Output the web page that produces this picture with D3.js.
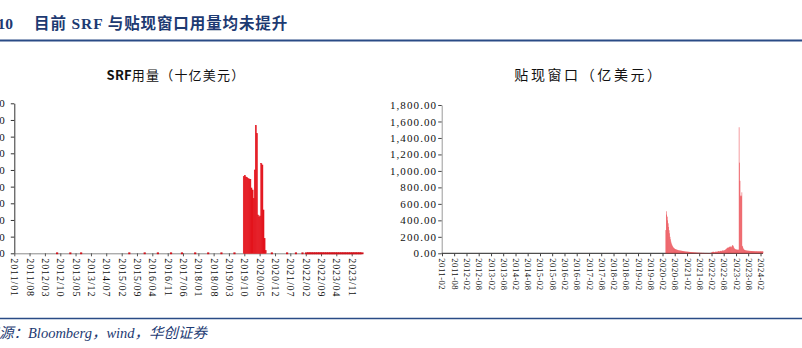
<!DOCTYPE html>
<html>
<head>
<meta charset="utf-8">
<script src="https://cdn.jsdelivr.net/npm/d3@7"></script>
<style>
  html, body { margin: 0; padding: 0; background: #fff; overflow: hidden; }
  svg { display: block; }
</style>
</head>
<body>
<svg id="chart" width="802" height="348"></svg>
<script>
// ---------------- data ----------------
// SRF / repo usage, billions of USD
const srfTickLabels = ["2011/01","2011/08","2012/03","2012/10","2013/05","2013/12","2014/07","2015/02",
  "2015/09","2016/04","2016/11","2017/06","2018/01","2018/08","2019/03","2019/10","2020/05","2020/12",
  "2021/07","2022/02","2022/09","2023/04","2023/11"];
const srfYTicks = [0, 50, 100, 150, 200, 250, 300, 350, 400, 450];

// small test operations (tiny amounts)
const srfTestDates = ["2012-08-15","2013-02-15","2013-07-15","2015-05-15","2015-12-15","2016-06-15",
  "2016-12-15","2017-05-15","2017-11-15","2018-05-15","2018-11-15","2019-05-15","2020-10-15",
  "2021-05-15","2021-09-15","2021-12-15"];
const srfTestValues = [0.01,0.01,0.02,0.01,0.01,0.01,0.01,0.01,0.02,0.01,0.01,0.01,0.01,0.02,0.01,0.01];

// repo operations Sep 2019 - Jul 2020, half-month periods
const srfRepoDates = ["2019-09-16","2019-10-01","2019-10-16","2019-11-01","2019-11-16","2019-12-01",
  "2019-12-16","2020-01-01","2020-01-16","2020-02-01","2020-02-16","2020-03-01","2020-03-16",
  "2020-04-01","2020-04-16","2020-05-01","2020-05-16","2020-06-01","2020-06-16","2020-07-01","2020-07-16"];
const srfRepoValues = [230,234,229,227,224,223,222,196,190,164,250,384,360,115,109,112,269,265,130,45,8];

// standing facility, monthly since 2022
const srfRecentDates = ["2022-02-01","2022-03-01","2022-04-01","2022-05-01","2022-06-01","2022-07-01",
  "2022-08-01","2022-09-01","2022-10-01","2022-11-01","2022-12-01","2023-01-01","2023-02-01",
  "2023-03-01","2023-04-01","2023-05-01","2023-06-01","2023-07-01","2023-08-01","2023-09-01",
  "2023-10-01","2023-11-01","2023-12-01","2024-01-01","2024-02-01","2024-03-01"];
const srfRecentValues = [0.01,0.01,0.01,0.01,0.01,0.01,0.01,0.01,0.01,0.01,0.02,0.01,0.01,
  0.01,0.01,0.01,0.02,0.01,0.01,0.01,0.01,0.01,0.02,0.01,0.01,0.01];

// discount window, 100 millions of USD, weekly (Wednesdays)
const dwTickLabels = ["2011-02","2011-08","2012-02","2012-08","2013-02","2013-08","2014-02","2014-08",
  "2015-02","2015-08","2016-02","2016-08","2017-02","2017-08","2018-02","2018-08","2019-02","2019-08",
  "2020-02","2020-08","2021-02","2021-08","2022-02","2022-08","2023-02","2023-08","2024-02"];
const dwYTicks = [0, 200, 400, 600, 800, 1000, 1200, 1400, 1600, 1800];

const dw2020Start = "2020-03-04";
const dw2020 = [0,0,282,510,470,445,400,364,320,280,243,200,170,142,120,105,92,81,72,66,60,56,52,49,
  47,45,43,41,39,37,36,35,34,33,32,31,30,29,28,27,26,25,24,23];
const dw2021Start = "2021-01-06";
const dw2021 = [22,21,21,20,20,19,18,18,17,16,16,15,15,14,14,13,13,12,12,11,11,10,10,9,9,8,8,8,7,7,
  7,6,6,6,6,5,5,5,5,5,4,4,4,4,4,4,4,3,3,3,3,3];
const dw2022Start = "2022-01-05";
const dw2022 = [3,4,5,8,12,15,18,20,16,14,12,15,20,22,18,16,20,25,28,24,22,26,30,28,25,30,32,35,30,34,
  38,36,40,45,50,55,60,65,70,72,68,75,80,85,78,72,80,90,100,95,85,70];
const dw2023Start = "2023-01-04";
const dw2023 = [60,55,50,48,46,45,44,43,42,45,1530,1100,880,700,690,700,740,90,80,60,50,45,40,38,36,
  35,34,33,32,32,31,30,30,29,29,28,28,28,27,27,27,26,26,26,25,25,25,25,25,24,24,24];
const dw2024Start = "2024-01-03";
const dw2024 = [24,23,24,25,24,23,24,25,24,23];

// ---------------- drawing ----------------
const parseDay = d3.timeParse("%Y-%m-%d");
const svg = d3.select("#chart");
const navy = "#1d3a72";
const serif = "'Liberation Serif', 'Times New Roman', 'Noto Sans CJK SC', serif";
const sans = "'Noto Sans CJK SC', 'Noto Sans', sans-serif";

svg.append("rect").attr("width", 802).attr("height", 348).attr("fill", "#fff");

// header
svg.append("text").attr("x", 13).attr("y", 29).attr("text-anchor", "end")
  .style("font-family", serif).attr("font-weight", "bold").attr("font-size", 15.5)
  .attr("fill", navy).text("图表10");
svg.append("text").attr("x", 34).attr("y", 29)
  .style("font-family", serif).attr("font-weight", "bold").attr("font-size", 15.5)
  .attr("letter-spacing", 0.9).attr("fill", navy).text("目前 SRF 与贴现窗口用量均未提升");
svg.append("line").attr("x1", 0).attr("x2", 802).attr("y1", 40.5).attr("y2", 40.5)
  .attr("stroke", "#2a4b86").attr("stroke-width", 2);

// footer
svg.append("line").attr("x1", 0).attr("x2", 802).attr("y1", 318.5).attr("y2", 318.5)
  .attr("stroke", "#2a4b86").attr("stroke-width", 1.5);
svg.append("text").attr("x", -1).attr("y", 338).attr("text-anchor", "end")
  .style("font-family", serif).attr("font-style", "italic").attr("font-size", 14.5)
  .attr("fill", navy).text("资料来");
svg.append("text").attr("x", -1).attr("y", 338)
  .style("font-family", serif).attr("font-style", "italic").attr("font-size", 14.5)
  .attr("fill", navy).text("源：Bloomberg，wind，华创证券");

// ===== left panel: SRF =====
const xL = d3.scaleTime().domain([new Date(2011, 0, 1), new Date(2024, 2, 23)]).range([14.3, 362]);
const yL = d3.scaleLinear().domain([0, 450]).range([253.3, 103.3]);
const parseSlash = d3.timeParse("%Y/%m");

svg.append("text").attr("x", 176).attr("y", 79.5).attr("text-anchor", "middle")
  .style("font-family", sans).attr("font-size", 13).attr("letter-spacing", 1.2).attr("fill", "#111")
  .call(t => {
    t.append("tspan").attr("font-weight", "bold").attr("letter-spacing", 0.2).text("SRF");
    t.append("tspan").text("用量（十亿美元）");
  });

const gLy = svg.append("g").attr("transform", "translate(14.3,0)")
  .call(d3.axisLeft(yL).tickValues(srfYTicks).tickSize(3.5).tickSizeOuter(0).tickPadding(6)
    .tickFormat(d3.format(",.0f")));
gLy.select(".domain").attr("stroke", "#333");
gLy.selectAll(".tick line").attr("stroke", "#333");
gLy.selectAll("text").style("font-family", serif).attr("font-size", 11).attr("fill", "#111");

const gLx = svg.append("g").attr("transform", "translate(0,253.3)")
  .call(d3.axisBottom(xL).tickValues(srfTickLabels.map(parseSlash)).tickSize(3).tickSizeOuter(0)
    .tickFormat((d, i) => srfTickLabels[i]));
gLx.select(".domain").attr("stroke", "#8a8a8a");
gLx.selectAll(".tick line").attr("stroke", "#555");
gLx.selectAll("text").style("font-family", serif).attr("font-size", 10).attr("letter-spacing", 0.9)
  .attr("fill", "#111").attr("y", 0).attr("x", 5).attr("dy", "0.35em")
  .attr("transform", "rotate(90)").style("text-anchor", "start");

const srfRed = "#e3141d";
function periods(dates, values, endOf) {
  return dates.map((s, i) => {
    const d0 = parseDay(s);
    const d1 = i < dates.length - 1 ? parseDay(dates[i + 1]) : endOf(d0);
    return { d0, d1, v: values[i] };
  });
}
const srfBars = [
  ...srfTestDates.map((s, i) => ({ d0: parseDay(s), d1: d3.timeDay.offset(parseDay(s), 5), v: srfTestValues[i] })),
  ...periods(srfRepoDates, srfRepoValues, d => d3.timeDay.offset(d, 15)),
  ...periods(srfRecentDates, srfRecentValues, d => d3.timeMonth.offset(d, 1))
];
svg.append("g").selectAll("rect").data(srfBars).join("rect")
  .attr("x", d => xL(d.d0))
  .attr("width", d => Math.max(0, xL(d.d1) - xL(d.d0)))
  .attr("y", d => yL(d.v))
  .attr("height", d => yL(0) - yL(d.v))
  .attr("fill", srfRed)
  .attr("stroke", d => d.v < 1 ? "#d0121b" : srfRed)
  .attr("stroke-width", d => d.v < 1 ? 1.8 : 0.5);

// ===== right panel: discount window =====
const xR = d3.scaleTime().domain([new Date(2011, 1, 1), new Date(2024, 2, 9)]).range([442, 763]);
const yR = d3.scaleLinear().domain([0, 1800]).range([253.3, 105]);
const parseDash = d3.timeParse("%Y-%m");

svg.append("text").attr("x", 589).attr("y", 79.5).attr("text-anchor", "middle")
  .style("font-family", sans).attr("font-size", 14).attr("letter-spacing", 2.6).attr("fill", "#111")
  .text("贴现窗口（亿美元）");

const gRy = svg.append("g").attr("transform", "translate(441.7,0)")
  .call(d3.axisLeft(yR).tickValues(dwYTicks).tickSize(3.5).tickSizeOuter(0).tickPadding(1)
    .tickFormat(d3.format(",.2f")));
gRy.select(".domain").attr("stroke", "#9a9a9a");
gRy.selectAll(".tick line").attr("stroke", "#444");
gRy.selectAll("text").style("font-family", serif).attr("font-size", 11).attr("letter-spacing", 1.1)
  .attr("fill", "#111");

const gRx = svg.append("g").attr("transform", "translate(0,253.3)")
  .call(d3.axisBottom(xR).tickValues(dwTickLabels.map(parseDash)).tickSize(3).tickSizeOuter(0)
    .tickFormat((d, i) => dwTickLabels[i]));
gRx.select(".domain").attr("stroke", "#222").attr("d", "M441.7,0H763");
gRx.selectAll(".tick line").attr("stroke", "#444");
gRx.selectAll("text").style("font-family", serif).attr("font-size", 8.6).attr("letter-spacing", 0.5)
  .attr("fill", "#111").attr("y", 0).attr("x", 5).attr("dy", "0.35em")
  .attr("transform", "rotate(90)").style("text-anchor", "start");

const dwSeries = [[dw2020Start, dw2020], [dw2021Start, dw2021], [dw2022Start, dw2022],
  [dw2023Start, dw2023], [dw2024Start, dw2024]];
const dwBars = dwSeries.flatMap(([start, vals]) => {
  const s = parseDay(start);
  return vals.map((v, i) => ({ d0: d3.timeWeek.offset(s, i), d1: d3.timeWeek.offset(s, i + 1), v }));
});
svg.append("g").selectAll("rect").data(dwBars).join("rect")
  .attr("x", d => xR(d.d0))
  .attr("width", d => xR(d.d1) - xR(d.d0))
  .attr("y", d => yR(d.v))
  .attr("height", d => yR(0) - yR(d.v))
  .attr("fill", "#e8333a");
</script>
</body>
</html>
